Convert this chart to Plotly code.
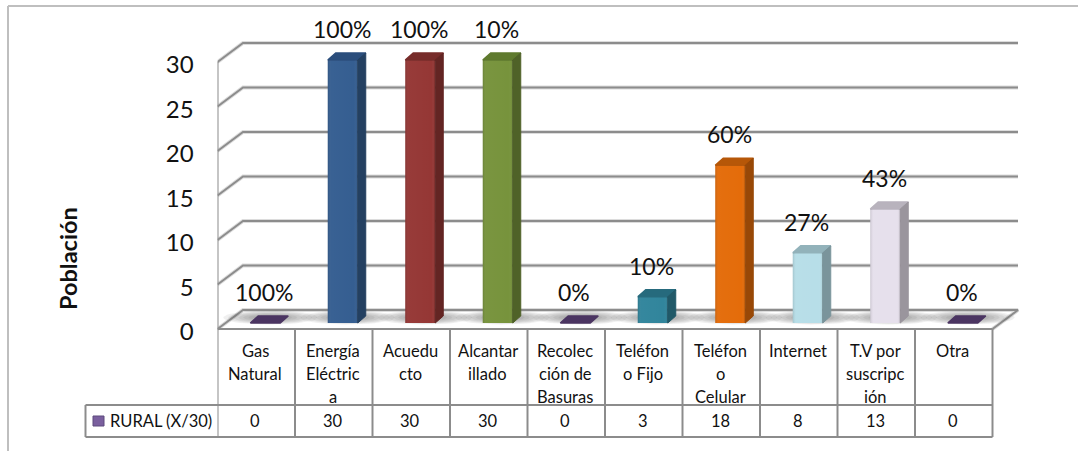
import numpy as np
import plotly.graph_objects as go

# Datos de la encuesta rural
categorias = [
    ["Gas", "Natural"],
    ["Energía", "Eléctric", "a"],
    ["Acuedu", "cto"],
    ["Alcantar", "illado"],
    ["Recolec", "ción de", "Basuras"],
    ["Teléfon", "o Fijo"],
    ["Teléfon", "o", "Celular"],
    ["Internet"],
    ["T.V por", "suscripc", "ión"],
    ["Otra"],
]
valores = [0, 30, 30, 30, 0, 3, 18, 8, 13, 0]
etiquetas = ["100%", "100%", "100%", "10%", "0%", "10%", "60%", "27%", "43%", "0%"]
marcas_y = [0, 5, 10, 15, 20, 25, 30]
serie = "RURAL (X/30)"
titulo_y = "Población"

# Colores por columna: frente, lateral, tapa
frente = ["#4b3562", "#355e91", "#953735", "#77933c", "#4b3562", "#31859c", "#e46c0a", "#b7dee8", "#e6e0ec", "#4b3562"]
lateral = ["#403152", "#244061", "#632523", "#4f6228", "#403152", "#215968", "#984807", "#7a949b", "#9a959d", "#403152"]
tapa = ["#4b3562", "#2b4e7c", "#772c2a", "#5f7a2e", "#4b3562", "#266a7d", "#b65708", "#92b2ba", "#b8b3bd", "#4b3562"]

W, H = 1078, 451
TEXTO = "#111111"
LINEA = "#8c8c8c"
FUENTE = "Lato"

# Geometria en pixeles de la caja del grafico
COL = 77.5
X_IZQ = 217.5
X_DER = 1030
Y_SUP, Y_INF = 5, 445
PARED_CERO, PARED_ESC = 329, 8.9
BARRA_CERO, BARRA_ESC = 323, 8.767

# Profundidad de pared y de barra en unidades de cada eje
FONDO_X, FONDO_Y = 25.5 / COL, 19 / PARED_ESC
PROF_X, PROF_Y = 8 / COL, 7 / BARRA_ESC
DESP = 9 / COL
ANCHO = 30 / COL

x_rango = [-0.5, -0.5 + (X_DER - X_IZQ) / COL]
n = len(valores)


def py(p):
    return 1 - p / H


def caja(x0, x1, p0, p1, color=LINEA, ancho=2):
    return dict(type="line", xref="x", yref="paper", x0=x0, x1=x1, y0=py(p0), y1=py(p1),
                line=dict(color=color, width=ancho), layer="above")


def horizontal(x0, x1, p):
    return dict(type="line", xref="paper", yref="paper", x0=x0 / W, x1=x1 / W, y0=py(p), y1=py(p),
                line=dict(color=LINEA, width=2), layer="above")


fig = go.Figure()

# Paredes y rejilla
for sombra, color, w in ((True, "#dcdcdc", 4), (False, LINEA, 2)):
    for v in marcas_y[1:]:
        fig.add_trace(go.Scatter(
            x=[-0.5, -0.5 + FONDO_X, n - 0.5 + FONDO_X],
            y=[v, v + FONDO_Y, v + FONDO_Y],
            mode="lines", line=dict(color=color, width=w), hoverinfo="skip", showlegend=False,
            yaxis="y"))
    # Suelo
    fig.add_trace(go.Scatter(
        x=[-0.5, -0.5 + FONDO_X, n - 0.5 + FONDO_X, n - 0.5],
        y=[0, FONDO_Y, FONDO_Y, 0],
        mode="lines", line=dict(color=color, width=w), hoverinfo="skip", showlegend=False, yaxis="y"))

fig.add_trace(go.Scatter(x=[-0.5, -0.5], y=[0, 30], mode="lines", line=dict(color=LINEA, width=2),
                         hoverinfo="skip", showlegend=False, yaxis="y"))

# Sombras difusas sobre el suelo, por debajo de las columnas
t = np.linspace(0, 2 * np.pi, 40)
centro_sombra = (PARED_CERO - 317.5) / PARED_ESC
for i in range(n):
    for paso in range(7):
        rx = (47 - 5 * paso) / COL
        ry = (7 - 0.8 * paso) / PARED_ESC
        fig.add_trace(go.Scatter(
            x=i + DESP + 5 / COL + rx * np.cos(t), y=centro_sombra + ry * np.sin(t),
            mode="lines", line=dict(width=0), fill="toself", fillcolor="rgba(90,90,90,0.09)",
            hoverinfo="skip", showlegend=False, yaxis="y"))

# Columnas
fig.add_trace(go.Bar(
    x=[i + DESP for i in range(n)], y=valores, width=ANCHO, marker=dict(color=frente, line=dict(width=0)),
    hoverinfo="skip", showlegend=False, yaxis="y2"))

for i, v in enumerate(valores):
    x0, x1 = i + DESP - ANCHO / 2, i + DESP + ANCHO / 2
    # Tapa
    fig.add_trace(go.Scatter(
        x=[x0, x0 + PROF_X, x1 + PROF_X, x1, x0],
        y=[v, v + PROF_Y, v + PROF_Y, v, v],
        mode="lines", fill="toself", fillcolor=tapa[i], line=dict(color=tapa[i], width=1.5),
        hoverinfo="skip", showlegend=False, yaxis="y2"))
    if v > 0:
        # Lateral
        fig.add_trace(go.Scatter(
            x=[x1, x1 + PROF_X, x1 + PROF_X, x1, x1],
            y=[0, PROF_Y, v + PROF_Y, v, 0],
            mode="lines", fill="toself", fillcolor=lateral[i], line=dict(color=lateral[i], width=1),
            hoverinfo="skip", showlegend=False, yaxis="y2"))
        # Sombreado de los bordes del frente
        fig.add_trace(go.Scatter(
            x=[x0, x1, x1, x0, x0], y=[0, 0, v, v, 0],
            mode="lines", line=dict(width=0), fill="toself",
            fillgradient=dict(type="horizontal", colorscale=[
                [0, "rgba(0,0,0,0.12)"], [0.12, "rgba(255,255,255,0.02)"],
                [0.88, "rgba(255,255,255,0.0)"], [1, "rgba(0,0,0,0.10)"]]),
            hoverinfo="skip", showlegend=False, yaxis="y2"))

anotaciones = []


def rotulo(x, y, texto, size, **extra):
    base = dict(x=x, y=y, text=texto, showarrow=False, xanchor="center", yanchor="middle",
                font=dict(family=FUENTE, size=size, color=TEXTO))
    base.update(extra)
    anotaciones.append(base)


# Rotulos de porcentaje sobre cada columna
for i, v in enumerate(valores):
    rotulo(i + DESP - 1 / COL, v, etiquetas[i], 23, xref="x", yref="y2", yshift=31)

# Tabla de datos
for i, lineas in enumerate(categorias):
    for k, linea in enumerate(lineas):
        rotulo(i - 1 / COL, py(351 + 23.2 * k), linea, 16.5, xref="x", yref="paper")
    rotulo(i - 1 / COL, py(421), str(valores[i]), 16.5, xref="x", yref="paper")

rotulo(108 / W, py(421), serie, 16.5, xref="paper", yref="paper", xanchor="left")
rotulo(68 / W, py(259), titulo_y, 23.5, xref="paper", yref="paper", textangle=-90,
       font=dict(family=FUENTE, size=23.5, color=TEXTO, weight="bold"))

formas = [
    # Marco exterior
    dict(type="line", xref="paper", yref="paper", x0=8 / W, x1=1, y0=py(6), y1=py(6),
         line=dict(color="#bfbfbf", width=2)),
    dict(type="line", xref="paper", yref="paper", x0=8 / W, x1=8 / W, y0=py(6), y1=0,
         line=dict(color="#bfbfbf", width=2)),
    # Clave de la serie
    dict(type="rect", xref="paper", yref="paper", x0=93 / W, x1=104 / W, y0=py(416), y1=py(426),
         fillcolor="#7a5f9e", line=dict(color="#5d4a7c", width=1)),
]

# Reticula de la tabla
for i in range(n + 1):
    formas.append(caja(i - 0.5, i - 0.5, 329, 437))
formas.append(caja(-0.5, n - 0.5, 329, 329))
formas.append(horizontal(85.5, 992.5, 405))
formas.append(horizontal(85.5, 992.5, 437))
formas.append(dict(type="line", xref="paper", yref="paper", x0=85.5 / W, x1=85.5 / W, y0=py(405), y1=py(437),
                   line=dict(color=LINEA, width=2)))

fig.update_layout(
    width=W, height=H, autosize=False,
    margin=dict(l=0, r=0, t=0, b=0),
    paper_bgcolor="white", plot_bgcolor="white",
    showlegend=False, barmode="overlay",
    annotations=anotaciones, shapes=formas,
    xaxis=dict(domain=[X_IZQ / W, X_DER / W], range=x_rango, visible=False, fixedrange=True),
    yaxis=dict(
        domain=[py(Y_INF), py(Y_SUP)],
        range=[(PARED_CERO - Y_INF) / PARED_ESC, (PARED_CERO - Y_SUP) / PARED_ESC],
        tickmode="array", tickvals=marcas_y, ticktext=[str(v) for v in marcas_y],
        ticks="outside", ticklen=18, tickcolor="rgba(0,0,0,0)", ticklabelshift=3,
        showgrid=False, zeroline=False, showline=False, fixedrange=True,
        tickfont=dict(family=FUENTE, size=24, color=TEXTO)),
    yaxis2=dict(
        domain=[py(Y_INF), py(Y_SUP)], overlaying="y", anchor="x",
        range=[(BARRA_CERO - Y_INF) / BARRA_ESC, (BARRA_CERO - Y_SUP) / BARRA_ESC],
        visible=False, fixedrange=True),
)

fig.write_html("out.html", config=dict(displayModeBar=False))
